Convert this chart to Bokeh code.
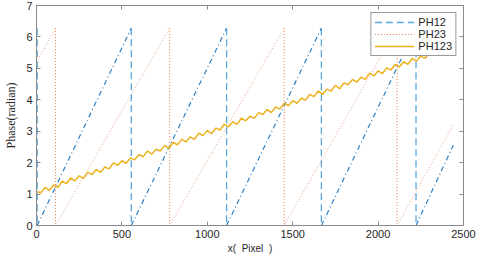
from bokeh.plotting import figure
from bokeh.models import Range1d, LinearAxis, Legend, LegendItem, FixedTicker
from bokeh.embed import file_html
from bokeh.resources import INLINE

# ---- data ----
ph12_x = [0, 4, 4, 555, 555, 1113, 1113, 1668, 1668, 2222, 2222, 2440]
ph12_y = [6.28, 6.28, 0, 6.28, 0, 6.28, 0, 6.28, 0, 6.28, 0, 2.55]

ph23_x = [0, 111, 111, 780, 780, 1450, 1450, 2111, 2111, 2440]
ph23_y = [5.2, 6.28, 0, 6.28, 0, 6.28, 0, 6.28, 0, 3.2]

ph123_x = [0, 25, 50, 75, 100, 125, 150, 175, 200, 225, 250, 275, 300, 325, 350,
           375, 400, 425, 450, 475, 500, 525, 550, 575, 600, 625, 650, 675, 700,
           725, 750, 775, 800, 825, 850, 875, 900, 925, 950, 975, 1000, 1025, 1050,
           1075, 1100, 1125, 1150, 1175, 1200, 1225, 1250, 1275, 1300, 1325, 1350,
           1375, 1400, 1425, 1450, 1475, 1500, 1525, 1550, 1575, 1600, 1625, 1650,
           1675, 1700, 1725, 1750, 1775, 1800, 1825, 1850, 1875, 1900, 1925, 1950,
           1975, 2000, 2025, 2050, 2075, 2100, 2125, 2150, 2175, 2200, 2225, 2250,
           2275, 2300, 2325, 2350, 2375, 2400, 2425, 2440]
ph123_y = [1.08, 1.04, 1.21, 1.12, 1.29, 1.21, 1.41, 1.33, 1.51, 1.42, 1.58, 1.50,
           1.69, 1.62, 1.78, 1.69, 1.86, 1.80, 1.99, 1.91, 2.06, 1.98, 2.15, 2.09,
           2.26, 2.19, 2.37, 2.27, 2.43, 2.37, 2.55, 2.45, 2.64, 2.57, 2.74, 2.66,
           2.82, 2.74, 2.94, 2.86, 3.02, 2.92, 3.10, 3.04, 3.22, 3.14, 3.30, 3.22,
           3.42, 3.33, 3.48, 3.41, 3.59, 3.53, 3.69, 3.59, 3.77, 3.71, 3.89, 3.81,
           3.97, 3.89, 4.05, 3.99, 4.17, 4.10, 4.28, 4.17, 4.34, 4.28, 4.46, 4.35,
           4.54, 4.48, 4.65, 4.56, 4.72, 4.65, 4.85, 4.76, 4.92, 4.83, 5.01, 4.95,
           5.12, 5.05, 5.21, 5.13, 5.32, 5.23, 5.39, 5.32, 5.49, 5.43, 5.60, 5.50,
           5.67, 5.61, 5.74]

x_ticks = [0, 500, 1000, 1500, 2000, 2500]
y_ticks = [0, 1, 2, 3, 4, 5, 6, 7]

BLUE_V = "#5aa6dc"
BLUE_R = "#2a7fc4"
ORANGE = "#e2764c"
GOLD = "#edb120"
AXIS = "#8a8a8a"
TXT = "#262626"


def split(xs, ys):
    ramps_x, ramps_y, drops_x, drops_y = [], [], [], []
    for i in range(len(xs) - 1):
        seg_x = [xs[i], xs[i + 1]]
        seg_y = [ys[i], ys[i + 1]]
        if xs[i] == xs[i + 1]:
            drops_x.append(seg_x)
            drops_y.append(seg_y)
        elif ys[i] != ys[i + 1]:
            ramps_x.append(seg_x)
            ramps_y.append(seg_y)
    return ramps_x, ramps_y, drops_x, drops_y


p = figure(width=480, height=256, output_backend="svg", toolbar_location=None,
           x_range=Range1d(0, 2500), y_range=Range1d(0, 7),
           min_border_left=36, min_border_right=17, min_border_top=5,
           min_border_bottom=30)
p.grid.visible = False
p.background_fill_color = "white"
p.border_fill_color = "white"
p.outline_line_color = AXIS

r12x, r12y, d12x, d12y = split(ph12_x, ph12_y)
r23x, r23y, d23x, d23y = split(ph23_x, ph23_y)

ramp12 = p.multi_line(r12x, r12y, line_color=BLUE_R, line_width=1.2, line_dash="5 3 1 3")
drop12 = p.multi_line(d12x, d12y, line_color=BLUE_V, line_width=1.3, line_dash="7 4")
ramp23 = p.multi_line(r23x, r23y, line_color=ORANGE, line_width=0.9, line_dash="1 2", line_alpha=0.8)
drop23 = p.multi_line(d23x, d23y, line_color=ORANGE, line_width=1.0, line_dash="1 2")
l123 = p.line(ph123_x, ph123_y, line_color=GOLD, line_width=1.5)

for ax in [p.xaxis[0], p.yaxis[0]]:
    ax.axis_line_color = AXIS
    ax.major_tick_line_color = AXIS
    ax.major_tick_in = 4
    ax.major_tick_out = 0
    ax.minor_tick_line_color = None
    ax.major_label_text_font = "Liberation Sans"
    ax.major_label_text_font_size = "11px"
    ax.major_label_text_color = TXT
    ax.major_label_standoff = 4

p.xaxis[0].ticker = FixedTicker(ticks=x_ticks)
p.yaxis[0].ticker = FixedTicker(ticks=y_ticks)
p.xaxis[0].axis_label = "x(\u00a0\u00a0Pixel\u00a0\u00a0)"
p.xaxis[0].axis_label_text_font = "Liberation Sans"
p.xaxis[0].axis_label_text_font_style = "normal"
p.xaxis[0].axis_label_text_font_size = "10px"
p.xaxis[0].axis_label_text_color = TXT
p.xaxis[0].axis_label_standoff = 2
p.yaxis[0].axis_label = "Phase(radian)"
p.yaxis[0].axis_label_text_font = "Liberation Serif"
p.yaxis[0].axis_label_text_font_style = "normal"
p.yaxis[0].axis_label_text_font_size = "12px"
p.yaxis[0].axis_label_text_color = TXT
p.yaxis[0].axis_label_standoff = 5

top = LinearAxis(ticker=FixedTicker(ticks=x_ticks),
                 major_label_overrides={t: "" for t in x_ticks})
right = LinearAxis(ticker=FixedTicker(ticks=y_ticks),
                   major_label_overrides={t: "" for t in y_ticks})
for ax in [top, right]:
    ax.axis_line_color = AXIS
    ax.major_tick_line_color = AXIS
    ax.major_tick_in = 4
    ax.major_tick_out = 0
    ax.minor_tick_line_color = None
    ax.major_label_standoff = 0
p.add_layout(top, "above")
p.add_layout(right, "right")

legend = Legend(items=[
    LegendItem(label="PH12", renderers=[drop12]),
    LegendItem(label="PH23", renderers=[drop23]),
    LegendItem(label="PH123", renderers=[l123]),
], location="top_right")
legend.label_text_font = "Liberation Sans"
legend.label_text_font_size = "11px"
legend.label_text_color = TXT
legend.glyph_width = 40
legend.glyph_height = 10
legend.label_height = 10
legend.spacing = 0
legend.padding = 3
legend.margin = 7
legend.label_standoff = 4
legend.border_line_color = "#333333"
legend.border_line_width = 1
legend.background_fill_alpha = 1.0
p.add_layout(legend)

open("out.html", "w").write(file_html(p, INLINE))
